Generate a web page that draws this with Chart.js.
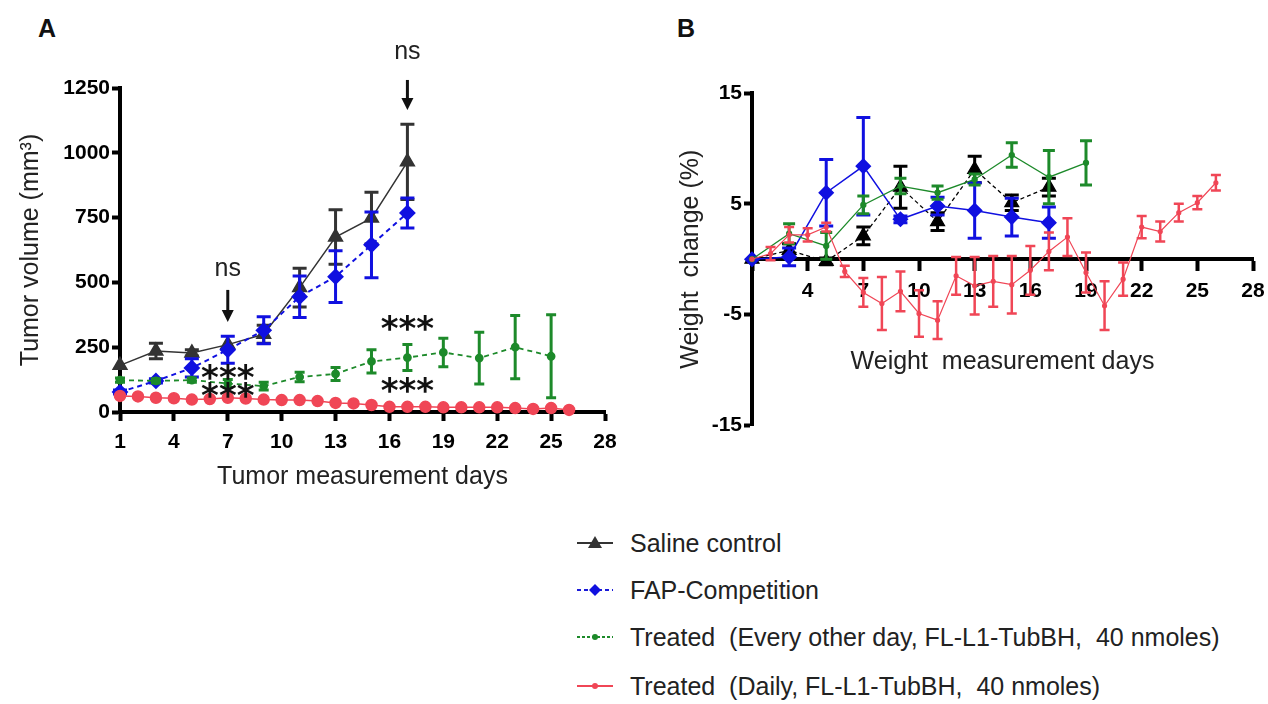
<!DOCTYPE html>
<html>
<head>
<meta charset="utf-8">
<script src="https://cdn.jsdelivr.net/npm/chart.js@4/dist/chart.umd.min.js"></script>
<style>
  body { margin: 0; background: #fff; width: 1268px; height: 704px; position: relative; overflow: hidden; font-family: "Liberation Sans", Arial, sans-serif; }
  #cA { position: absolute; left: 0; top: 0; }
  #cB { position: absolute; left: 640px; top: 0; }
  .panel { position: absolute; font-weight: bold; font-size: 25px; color: #111; }
  .legend { position: absolute; left: 575px; top: 520px; }
  .row { position: absolute; left: 0; height: 30px; display: flex; align-items: center; white-space: nowrap; font-size: 25px; color: #222; }
  .row svg { margin-right: 15px; }
</style>
</head>
<body>
<div class="panel" style="left:38px;top:14px">A</div>
<div class="panel" style="left:677px;top:14px">B</div>
<canvas id="cA" width="640" height="500"></canvas>
<canvas id="cB" width="628" height="440"></canvas>

<div class="legend">
  <div class="row" style="top:8px">
    <svg width="40" height="30"><line x1="2" y1="15" x2="38" y2="15" stroke="#333" stroke-width="2"/><polygon points="20,8 27,20 13,20" fill="#333"/></svg>
    <span>Saline control</span>
  </div>
  <div class="row" style="top:55px">
    <svg width="40" height="30"><line x1="2" y1="15" x2="38" y2="15" stroke="#1a1ad8" stroke-width="2" stroke-dasharray="4,3"/><polygon points="20,9 26,15 20,21 14,15" fill="#1010e0"/></svg>
    <span>FAP-Competition</span>
  </div>
  <div class="row" style="top:102px">
    <svg width="40" height="30"><line x1="2" y1="15" x2="38" y2="15" stroke="#1d8a2a" stroke-width="2" stroke-dasharray="3,2"/><circle cx="20" cy="15" r="3" fill="#1d8a2a"/></svg>
    <span>Treated&nbsp; (Every other day, FL-L1-TubBH,&nbsp; 40 nmoles)</span>
  </div>
  <div class="row" style="top:151px">
    <svg width="40" height="30"><line x1="2" y1="15" x2="38" y2="15" stroke="#f04656" stroke-width="2"/><circle cx="20" cy="15" r="3" fill="#f04656"/></svg>
    <span>Treated&nbsp; (Daily, FL-L1-TubBH,&nbsp; 40 nmoles)</span>
  </div>
</div>

<script>
// ---- panel A: tumor volume ----
const xTicks = [1, 4, 7, 10, 13, 16, 19, 22, 25, 28];
const yTicksA = [0, 250, 500, 750, 1000, 1250];

const salineDaysA = [1, 3, 5, 7, 9, 11, 13, 15, 17];
const salineA = [180, 235, 228, 260, 300, 480, 675, 748, 965];
const salineErrA = [0, 30, 12, 0, 35, 75, 105, 100, 145];

const fapDaysA = [1, 3, 5, 7, 9, 11, 13, 15, 17];
const fapA = [77, 120, 170, 240, 315, 445, 522, 645, 768];
const fapErrA = [8, 8, 35, 52, 52, 80, 100, 127, 58];

const eodDaysA = [1, 3, 5, 7, 9, 11, 13, 15, 17, 19, 21, 23, 25];
const eodA = [123, 120, 123, 110, 100, 135, 147, 195, 210, 230, 208, 250, 215];
const eodErrA = [8, 8, 8, 15, 15, 18, 25, 45, 50, 55, 100, 122, 160];

const dailyDaysA = [1, 2, 3, 4, 5, 6, 7, 8, 9, 10, 11, 12, 13, 14, 15, 16, 17, 18, 19, 20, 21, 22, 23, 24, 25, 26];
const dailyA = [62, 60, 55, 53, 48, 50, 55, 52, 48, 46, 46, 42, 35, 33, 27, 20, 20, 20, 18, 18, 18, 18, 15, 12, 15, 8];

// significance marks, in data units
const nsMarks = [{ day: 7, value: 552 }, { day: 17, value: 1389 }];
const arrowMarks = [{ day: 7, from: 471, to: 347 }, { day: 17, from: 1281, to: 1165 }];
const starMarks = [{ day: 7, value: 154 }, { day: 7, value: 85 }, { day: 17, value: 343 }, { day: 17, value: 104 }];

// ---- panel B: weight change ----
const yTicksB = [-15, -5, 5, 15];

const salineDaysB = [1, 3, 5, 7, 9, 11, 13, 15, 17];
const salineB = [0, 0.8, -0.2, 2.1, 6.5, 3.4, 8.1, 5.1, 6.5];
const salineErrB = [0, 0.6, 0.3, 0.8, 1.9, 0.8, 1.2, 0.7, 0.8];

const fapDaysB = [1, 3, 5, 7, 9, 11, 13, 15, 17];
const fapB = [0, 0.2, 6.0, 8.4, 3.6, 4.8, 4.4, 3.8, 3.3];
const fapErrB = [0, 0.8, 3.0, 4.4, 0.3, 0.8, 2.5, 1.7, 1.4];

const eodDaysB = [1, 3, 5, 7, 9, 11, 13, 15, 17, 19];
const eodB = [0, 2.3, 1.2, 4.9, 6.6, 6.0, 7.2, 9.4, 7.4, 8.7];
const eodErrB = [0, 0.9, 1.2, 0.8, 0.7, 0.6, 0.5, 1.1, 2.4, 2.0];

const dailyDaysB = [1, 2, 3, 4, 5, 6, 7, 8, 9, 10, 11, 12, 13, 14, 15, 16, 17, 18, 19, 20, 21, 22, 23, 24, 25, 26];
const dailyB = [0, 0.5, 2.2, 2.2, 2.9, -1.1, -3.0, -4.0, -2.9, -4.9, -5.5, -1.5, -2.4, -2.0, -2.3, -1.0, 0.7, 2.0, -1.2, -4.2, -1.8, 2.9, 2.5, 4.2, 5.1, 6.9];
const dailyErrB = [0, 0.6, 0.7, 0.6, 0.4, 0.5, 1.3, 2.4, 1.8, 2.1, 1.7, 1.7, 2.6, 2.3, 2.6, 2.2, 1.7, 1.7, 1.8, 2.2, 1.5, 1.0, 0.9, 0.8, 0.6, 0.7];

const GRAY = '#333333', BLUE = '#1010e0', GREEN = '#1d8a2a', RED = '#f04656', BLACK = '#000000';
const FONT = '"Liberation Sans", Arial, sans-serif';

const pts = (days, vals) => days.map((d, i) => ({ x: d, y: vals[i] }));

const errorBars = {
  id: 'errorBars',
  beforeDatasetDraw(chart, args) {
    const ds = chart.data.datasets[args.index];
    if (!ds.errors) return;
    const ctx = chart.ctx, ys = chart.scales.y;
    ctx.save();
    ctx.strokeStyle = ds.borderColor;
    ctx.lineWidth = ds.errWidth || 3;
    ctx.setLineDash([]);
    args.meta.data.forEach((p, i) => {
      const e = ds.errors[i];
      if (!e) return;
      const v = ds.data[i].y;
      const t = ys.getPixelForValue(v + e), b = ys.getPixelForValue(v - e);
      const hw = ds.capHalf || 7;
      ctx.beginPath();
      ctx.moveTo(p.x, t); ctx.lineTo(p.x, b);
      ctx.moveTo(p.x - hw, t); ctx.lineTo(p.x + hw, t);
      ctx.moveTo(p.x - hw, b); ctx.lineTo(p.x + hw, b);
      ctx.stroke();
    });
    ctx.restore();
  }
};

const marksA = {
  id: 'marksA',
  afterDatasetsDraw(chart) {
    const ctx = chart.ctx, xs = chart.scales.x, ys = chart.scales.y;
    ctx.save();
    ctx.fillStyle = '#222';
    ctx.textAlign = 'center';
    ctx.textBaseline = 'middle';
    ctx.font = '25px ' + FONT;
    nsMarks.forEach(m => ctx.fillText('ns', xs.getPixelForValue(m.day), ys.getPixelForValue(m.value)));
    ctx.strokeStyle = '#111';
    ctx.fillStyle = '#111';
    ctx.lineWidth = 3;
    arrowMarks.forEach(m => {
      const x = xs.getPixelForValue(m.day);
      const y1 = ys.getPixelForValue(m.from), y2 = ys.getPixelForValue(m.to);
      ctx.beginPath(); ctx.moveTo(x, y1); ctx.lineTo(x, y2 - 10); ctx.stroke();
      ctx.beginPath(); ctx.moveTo(x - 6, y2 - 12); ctx.lineTo(x + 6, y2 - 12); ctx.lineTo(x, y2); ctx.closePath(); ctx.fill();
    });
    ctx.font = 'bold 34px "DejaVu Sans"';
    ctx.textBaseline = 'alphabetic';
    const mt = ctx.measureText('***');
    const off = (mt.actualBoundingBoxAscent - mt.actualBoundingBoxDescent) / 2;
    starMarks.forEach(m => ctx.fillText('***', xs.getPixelForValue(m.day), ys.getPixelForValue(m.value) + off));
    ctx.restore();
  }
};

const tickFont = { family: FONT, size: 21, weight: 'bold' };
const titleFont = { family: FONT, size: 25 };
const plain = v => String(v);

new Chart(document.getElementById('cA'), {
  type: 'line',
  data: {
    datasets: [
      { data: pts(dailyDaysA, dailyA), borderColor: RED, backgroundColor: RED, borderWidth: 1.5,
        pointStyle: 'circle', pointRadius: 5.5, clip: false },
      { data: pts(eodDaysA, eodA), errors: eodErrA, borderColor: GREEN, backgroundColor: GREEN, borderWidth: 1.8,
        borderDash: [5, 4], pointStyle: 'circle', pointRadius: 3.5, capHalf: 5, clip: false },
      { data: pts(fapDaysA, fapA), errors: fapErrA, borderColor: BLUE, backgroundColor: BLUE, borderWidth: 2,
        borderDash: [5, 4], pointStyle: 'rectRot', pointRadius: 7, clip: false },
      { data: pts(salineDaysA, salineA), errors: salineErrA, borderColor: GRAY, backgroundColor: GRAY, borderWidth: 1.5,
        pointStyle: 'triangle', pointRadius: 8, clip: false }
    ]
  },
  options: {
    responsive: false,
    animation: false,
    layout: { padding: { top: 88, right: 35, bottom: 8, left: 0 } },
    plugins: { legend: { display: false }, tooltip: { enabled: false } },
    scales: {
      x: {
        type: 'linear', min: 1, max: 28,
        afterBuildTicks: s => { s.ticks = xTicks.map(v => ({ value: v })); },
        afterFit: s => { s.height = 80; },
        border: { display: true, width: 4, color: BLACK },
        grid: { drawOnChartArea: false, drawTicks: true, tickLength: 9, tickWidth: 4, tickColor: BLACK },
        ticks: { font: tickFont, color: BLACK, padding: 9, maxRotation: 0, callback: plain },
        title: { display: true, text: 'Tumor measurement days', font: titleFont, color: '#222', padding: { top: 0, bottom: 0 } }
      },
      y: {
        type: 'linear', min: 0, max: 1250,
        afterBuildTicks: s => { s.ticks = yTicksA.map(v => ({ value: v })); },
        afterFit: s => { s.width = 120; },
        border: { display: true, width: 4, color: BLACK },
        grid: { drawOnChartArea: false, drawTicks: true, tickLength: 8, tickWidth: 4, tickColor: BLACK },
        ticks: { font: tickFont, color: BLACK, padding: 2, callback: plain },
        title: { display: true, text: 'Tumor volume (mm³)', font: titleFont, color: '#222', padding: { top: 16, bottom: 0 } }
      }
    }
  },
  plugins: [errorBars, marksA]
});

new Chart(document.getElementById('cB'), {
  type: 'line',
  data: {
    datasets: [
      { data: pts(dailyDaysB, dailyB), errors: dailyErrB, borderColor: RED, backgroundColor: RED, borderWidth: 1.2,
        pointStyle: 'circle', pointRadius: 2, errWidth: 2.5, capHalf: 5, clip: false },
      { data: pts(eodDaysB, eodB), errors: eodErrB, borderColor: GREEN, backgroundColor: GREEN, borderWidth: 1.3,
        pointStyle: 'circle', pointRadius: 2.5, capHalf: 6, clip: false },
      { data: pts(fapDaysB, fapB), errors: fapErrB, borderColor: BLUE, backgroundColor: BLUE, borderWidth: 1.5,
        pointStyle: 'rectRot', pointRadius: 7, clip: false },
      { data: pts(salineDaysB, salineB), errors: salineErrB, borderColor: BLACK, backgroundColor: BLACK, borderWidth: 1.3,
        borderDash: [4, 3], pointStyle: 'triangle', pointRadius: 8, clip: false }
    ]
  },
  options: {
    responsive: false,
    animation: false,
    layout: { padding: { top: 93, right: 15, bottom: 13, left: 0 } },
    plugins: { legend: { display: false }, tooltip: { enabled: false } },
    scales: {
      x: {
        type: 'linear', min: 1, max: 28, position: { y: 0 },
        afterBuildTicks: s => { s.ticks = xTicks.map(v => ({ value: v })); },
        afterFit: s => { s.height = 120; s.paddingRight = 12; s.paddingLeft = 0; },
        border: { display: true, width: 4, color: BLACK },
        grid: { drawOnChartArea: false, drawTicks: true, tickLength: 10, tickWidth: 4, tickColor: BLACK },
        ticks: { font: tickFont, color: BLACK, padding: 9, maxRotation: 0, callback: v => (v === 1 ? '' : String(v)) },
        title: { display: true, text: 'Weight  measurement days', font: titleFont, color: '#222', padding: { top: 0, bottom: 2 } }
      },
      y: {
        type: 'linear', min: -15, max: 15,
        afterBuildTicks: s => { s.ticks = yTicksB.map(v => ({ value: v })); },
        afterFit: s => { s.width = 112; },
        border: { display: true, width: 4, color: BLACK },
        grid: { drawOnChartArea: false, drawTicks: true, tickLength: 8, tickWidth: 4, tickColor: BLACK },
        ticks: { font: tickFont, color: BLACK, padding: 2, callback: plain },
        title: { display: true, text: 'Weight  change (%)', font: titleFont, color: '#222', padding: { top: 36, bottom: 0 } }
      }
    }
  },
  plugins: [errorBars]
});
</script>
</body>
</html>
